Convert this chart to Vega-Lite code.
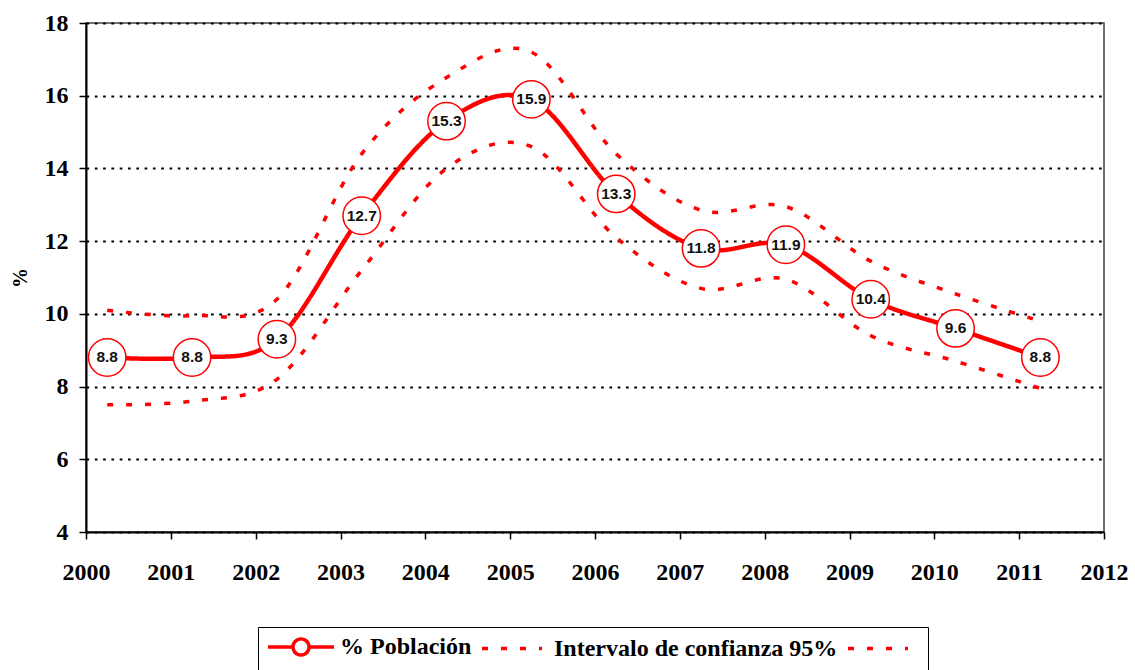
{
  "$schema": "https://vega.github.io/schema/vega-lite/v6.json",
  "width": 1018,
  "height": 509,
  "autosize": "none",
  "padding": {"left": 86, "top": 23, "right": 31, "bottom": 138},
  "background": "white",
  "config": {
    "view": {"stroke": "#404040", "strokeWidth": 1.5},
    "axis": {
      "labelFont": "'Liberation Serif', 'Times New Roman', 'DejaVu Serif', serif",
      "labelFontWeight": "bold",
      "labelFontSize": 24,
      "labelColor": "black",
      "titleFont": "'Liberation Serif', 'Times New Roman', 'DejaVu Serif', serif",
      "titleFontWeight": "bold",
      "titleColor": "black",
      "domainColor": "black",
      "domainWidth": 2,
      "tickColor": "black",
      "tickWidth": 1.5,
      "tickSize": 7,
      "labelFlush": false,
      "labelOverlap": false
    }
  },
  "data": {
    "values": [
      {"anio": 2000.25, "valor": 8.8, "serie": "% Población"},
      {"anio": 2001.25, "valor": 8.8, "serie": "% Población"},
      {"anio": 2002.25, "valor": 9.3, "serie": "% Población"},
      {"anio": 2003.25, "valor": 12.7, "serie": "% Población"},
      {"anio": 2004.25, "valor": 15.3, "serie": "% Población"},
      {"anio": 2005.25, "valor": 15.9, "serie": "% Población"},
      {"anio": 2006.25, "valor": 13.3, "serie": "% Población"},
      {"anio": 2007.25, "valor": 11.8, "serie": "% Población"},
      {"anio": 2008.25, "valor": 11.9, "serie": "% Población"},
      {"anio": 2009.25, "valor": 10.4, "serie": "% Población"},
      {"anio": 2010.25, "valor": 9.6, "serie": "% Población"},
      {"anio": 2011.25, "valor": 8.8, "serie": "% Población"},
      {"anio": 2000.25, "valor": 10.1, "serie": "Intervalo de confianza 95%"},
      {"anio": 2001.25, "valor": 9.95, "serie": "Intervalo de confianza 95%"},
      {"anio": 2002.25, "valor": 10.4, "serie": "Intervalo de confianza 95%"},
      {"anio": 2003.25, "valor": 14.4, "serie": "Intervalo de confianza 95%"},
      {"anio": 2004.25, "valor": 16.5, "serie": "Intervalo de confianza 95%"},
      {"anio": 2005.25, "valor": 17.2, "serie": "Intervalo de confianza 95%"},
      {"anio": 2006.25, "valor": 14.4, "serie": "Intervalo de confianza 95%"},
      {"anio": 2007.25, "valor": 12.85, "serie": "Intervalo de confianza 95%"},
      {"anio": 2008.25, "valor": 12.95, "serie": "Intervalo de confianza 95%"},
      {"anio": 2009.25, "valor": 11.45, "serie": "Intervalo de confianza 95%"},
      {"anio": 2010.25, "valor": 10.55, "serie": "Intervalo de confianza 95%"},
      {"anio": 2011.25, "valor": 9.8, "serie": "Intervalo de confianza 95%"},
      {"anio": 2000.25, "valor": 7.5, "serie": " "},
      {"anio": 2001.25, "valor": 7.6, "serie": " "},
      {"anio": 2002.25, "valor": 8.2, "serie": " "},
      {"anio": 2003.25, "valor": 11.2, "serie": " "},
      {"anio": 2004.25, "valor": 14.0, "serie": " "},
      {"anio": 2005.25, "valor": 14.6, "serie": " "},
      {"anio": 2006.25, "valor": 12.1, "serie": " "},
      {"anio": 2007.25, "valor": 10.7, "serie": " "},
      {"anio": 2008.25, "valor": 10.95, "serie": " "},
      {"anio": 2009.25, "valor": 9.4, "serie": " "},
      {"anio": 2010.25, "valor": 8.7, "serie": " "},
      {"anio": 2011.25, "valor": 7.95, "serie": " "}
    ]
  },
  "encoding": {
    "x": {
      "field": "anio",
      "type": "quantitative",
      "scale": {"domain": [2000, 2012], "nice": false, "zero": false},
      "axis": {
        "title": null,
        "values": [2000, 2001, 2002, 2003, 2004, 2005, 2006, 2007, 2008, 2009, 2010, 2011, 2012],
        "format": "d",
        "grid": false,
        "labelPadding": 21
      }
    },
    "y": {
      "field": "valor",
      "type": "quantitative",
      "scale": {"domain": [4, 18], "nice": false, "zero": false},
      "axis": {
        "title": "%",
        "titleFontSize": 20,
        "titlePadding": 14,
        "values": [4, 6, 8, 10, 12, 14, 16, 18],
        "labelPadding": 11,
        "grid": true,
        "gridColor": "black",
        "gridWidth": 2.2,
        "gridDash": [2.7, 5.6],
        "gridOpacity": 1
      }
    }
  },
  "layer": [
    {
      "transform": [{"filter": "datum.serie !== '% Población'"}],
      "mark": {"type": "line", "interpolate": "cardinal", "tension": 0, "color": "#ff0000", "strokeWidth": 3.5},
      "encoding": {
        "strokeDash": {
          "field": "serie",
          "type": "nominal",
          "scale": {
            "domain": ["% Población", "Intervalo de confianza 95%", " "],
            "range": [[1, 0], [6, 13], [6, 13]]
          },
          "legend": {
            "title": null,
            "orient": "none",
            "legendX": 172,
            "legendY": 604,
            "direction": "horizontal",
            "strokeColor": "black",
            "fillColor": "white",
            "padding": 8,
            "labelFont": "'Liberation Serif', 'Times New Roman', 'DejaVu Serif', serif",
            "labelFontWeight": "bold",
            "labelFontSize": 24,
            "labelColor": "black",
            "labelLimit": 400,
            "labelOffset": 50,
            "columnPadding": 3,
            "symbolSize": 400,
            "symbolType": "stroke",
            "symbolStrokeColor": "#ff0000",
            "symbolStrokeWidth": 3.5,
            "encode": {
              "symbols": {
                "update": {
                  "shape": {"signal": "datum.value === '% Población' ? 'M-1,0L1.5,0M3.1,0L5.6,0M3.1,0A0.8,0.8,0,1,1,1.5,0A0.8,0.8,0,1,1,3.1,0' : 'M-1,0L5.0,0'"},
                  "fill": {"value": "white"},
                  "stroke": {"value": "#ff0000"},
                  "strokeWidth": {"value": 3.5}
                }
              }
            }
          }
        }
      }
    },
    {
      "transform": [{"filter": "datum.serie === '% Población'"}],
      "mark": {"type": "line", "interpolate": "cardinal", "tension": 0, "color": "#ff0000", "strokeWidth": 4.5},
      "encoding": {
        "strokeDash": {"field": "serie", "type": "nominal"}
      }
    },
    {
      "transform": [{"filter": "datum.serie === '% Población'"}],
      "mark": {"type": "point", "shape": "circle", "filled": true, "fill": "white", "stroke": "#ff0000", "strokeWidth": 1.5, "size": 1400, "opacity": 1}
    },
    {
      "transform": [{"filter": "datum.serie === '% Población'"}],
      "mark": {"type": "text", "font": "Liberation Sans", "fontWeight": "bold", "fontSize": 15.5, "color": "#111111", "baseline": "middle", "align": "center"},
      "encoding": {
        "text": {"field": "valor", "type": "quantitative", "format": ".1f"}
      }
    }
  ]
}
